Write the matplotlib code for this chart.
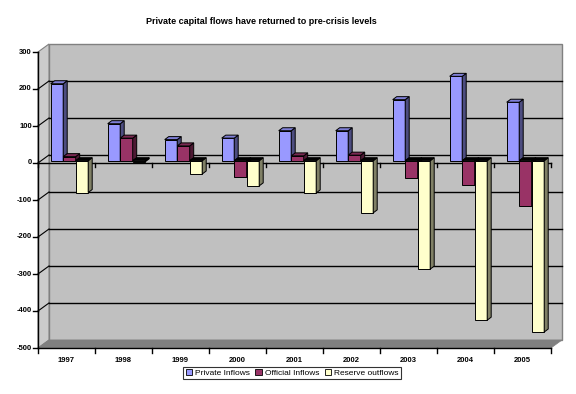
import numpy as np
import matplotlib
matplotlib.use("Agg")
import matplotlib.pyplot as plt
from matplotlib.patches import Polygon, Rectangle

plt.rcParams['font.family'] = ['Liberation Sans', 'DejaVu Sans']

# --- data ---
years = ['1997', '1998', '1999', '2000', '2001', '2002', '2003', '2004', '2005']
private_inflows = [208, 100, 57, 61, 81, 81, 165, 228, 158]
official_inflows = [11, 61, 40, -44, 13, 15, -47, -66, -123]
reserve_outflows = [-86, -3, -36, -68, -87, -141, -293, -431, -463]
series_names = ['Private Inflows', 'Official Inflows', 'Reserve outflows']
y_ticks = [300, 200, 100, 0, -100, -200, -300, -400, -500]

# colours: front, top, side
styles = [
    ('#9999ff', '#7f7fd6', '#4d4d80'),
    ('#993366', '#7a2952', '#4d1933'),
    ('#ffffcc', '#d6d6aa', '#808066'),
]

W, H = 576, 394
fig = plt.figure(figsize=(W / 100, H / 100), dpi=100)
fig.patch.set_facecolor('white')

# front plane of the pseudo 3d box (pixels)
x_left, x_right, y_top, y_bot = 38, 551, 52, 348
ax = fig.add_axes([x_left / W, 1 - y_bot / H, (x_right - x_left) / W, (y_bot - y_top) / H])
ax.set_xlim(0, len(years))
ax.set_ylim(-500, 300)
ax.axis('off')

cat_px = (x_right - x_left) / len(years)
unit_px = (y_bot - y_top) / 800.0

def px_x(p):
    return p / cat_px

def px_y(p):
    return p / unit_px

# wall depth
wdx, wdy = px_x(11), px_y(8)
n = len(years)
ymin, ymax = -500, 300

# back wall, side wall, floor
ax.add_patch(Rectangle((wdx, ymin + wdy), n, ymax - ymin, facecolor='#c0c0c0',
                       edgecolor='#808080', lw=1, clip_on=False, zorder=0))
ax.add_patch(Polygon([(0, ymin), (0, ymax), (wdx, ymax + wdy), (wdx, ymin + wdy)],
                     closed=True, facecolor='#cbcbcb', edgecolor='#808080', lw=0.8,
                     clip_on=False, zorder=0.5))
ax.add_patch(Polygon([(0, ymin), (n, ymin), (n + wdx, ymin + wdy), (wdx, ymin + wdy)],
                     closed=True, facecolor='#808080', edgecolor='#808080', lw=0.5,
                     clip_on=False, zorder=0.6))

# gridlines on back wall + left wall
for v in y_ticks[1:-1]:
    ax.plot([wdx, n + wdx], [v + wdy, v + wdy], color='black', lw=1, clip_on=False, zorder=1)
    ax.plot([0, wdx], [v, v + wdy], color='black', lw=0.8, clip_on=False, zorder=1)

# front axes
ax.plot([0, 0], [ymin, ymax], color='black', lw=1, clip_on=False, zorder=2)
ax.plot([0, n], [ymin, ymin], color='black', lw=1, clip_on=False, zorder=2)
ax.plot([0, n], [0, 0], color='black', lw=1, clip_on=False, zorder=2)
for v in y_ticks:
    ax.plot([-px_x(5), 0], [v, v], color='black', lw=1, clip_on=False, zorder=2)
    ax.text(-px_x(6), v, str(v), ha='right', va='center', fontsize=5.5,
            fontweight='bold', clip_on=False)
for i in range(n + 1):
    ax.plot([i, i], [ymin, ymin - px_y(5)], color='black', lw=1, clip_on=False, zorder=2)
    ax.plot([i, i], [0, -px_y(4)], color='black', lw=1, clip_on=False, zorder=2)
for i, yr in enumerate(years):
    ax.text(i + 0.5, ymin - px_y(12), yr, ha='center', va='center', fontsize=5.5,
            fontweight='bold', clip_on=False)

# bars
bar_w = px_x(12.5)
bar_off = px_x(12.7)
bdx, bdy = px_x(4), px_y(3)
base = px_y(2.3)

def bar3d(x, val, front, top, side, z):
    lo, hi = sorted([base, base + val])
    ax.add_patch(Rectangle((x, lo), bar_w, hi - lo, facecolor=front, edgecolor='black',
                           lw=0.7, clip_on=False, zorder=z))
    ax.add_patch(Polygon([(x + bar_w, lo), (x + bar_w + bdx, lo + bdy),
                          (x + bar_w + bdx, hi + bdy), (x + bar_w, hi)], closed=True,
                         facecolor=side, edgecolor='black', lw=0.7, clip_on=False, zorder=z))
    top_col = top if val > 0 else 'black'
    ax.add_patch(Polygon([(x, hi), (x + bdx, hi + bdy), (x + bar_w + bdx, hi + bdy),
                          (x + bar_w, hi)], closed=True, facecolor=top_col,
                         edgecolor='black', lw=0.7, clip_on=False, zorder=z))

for i in range(n):
    for k, vals in enumerate([private_inflows, official_inflows, reserve_outflows]):
        front, top, side = styles[k]
        bar3d(i + bar_off + k * bar_w, vals[i], front, top, side, 3 + k)

# title
fig.text(261 / W, 1 - 21 / H, 'Private capital flows have returned to pre-crisis levels',
         ha='center', va='center', fontsize=6.5, fontweight='bold')

# legend
handles = [Rectangle((0, 0), 1, 1, facecolor=s[0], edgecolor='black', lw=0.6) for s in styles]
leg = fig.legend(handles, series_names, loc='center', bbox_to_anchor=(292 / W, 1 - 373 / H),
                 ncol=3, fontsize=6, frameon=True, fancybox=False, handlelength=0.8,
                 handleheight=0.8, handletextpad=0.3, columnspacing=0.7, borderpad=0.25,
                 borderaxespad=0)
leg.get_frame().set_edgecolor('black')
leg.get_frame().set_linewidth(0.8)

fig.savefig('out.png', dpi=100)
